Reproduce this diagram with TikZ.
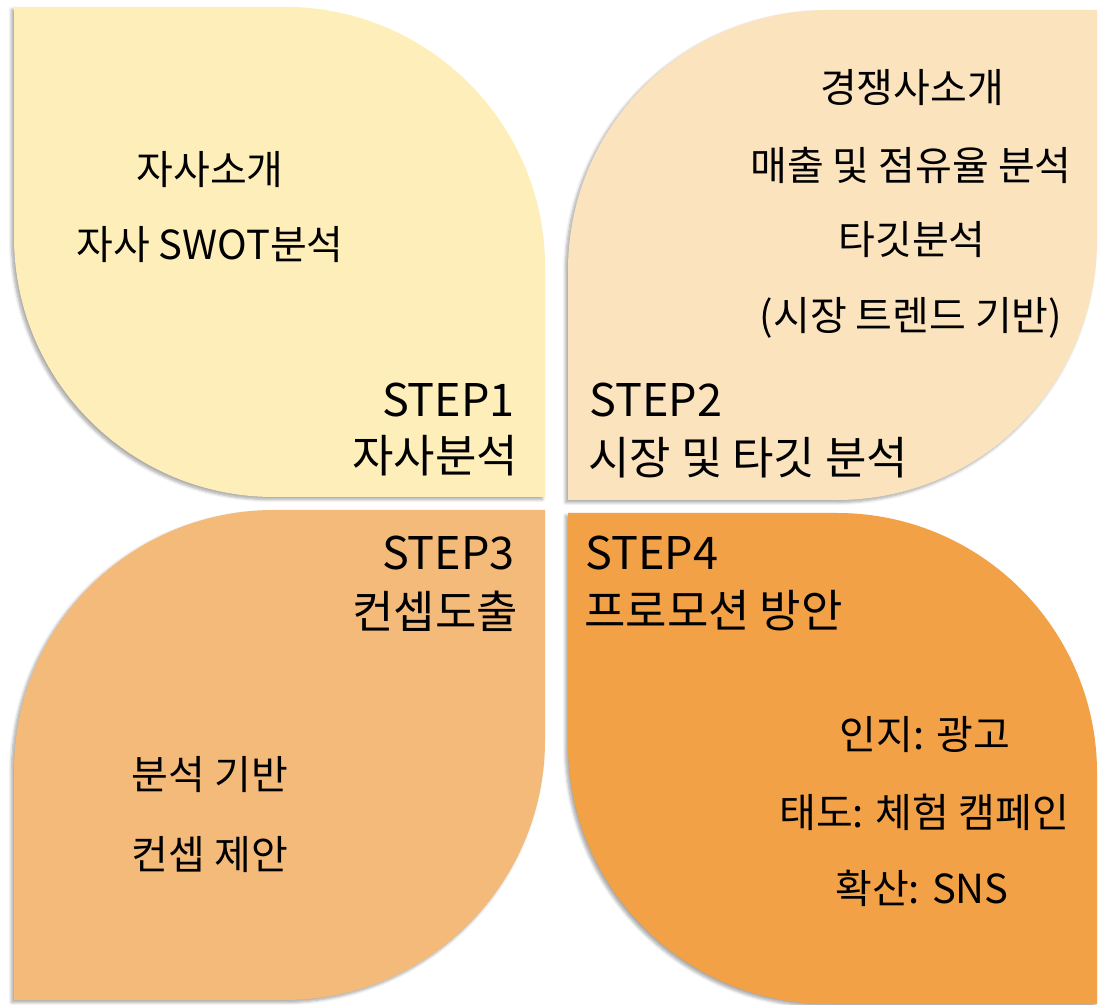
\documentclass[tikz,border=0pt]{standalone}
\usepackage{fontspec}
\setmainfont{Noto Sans CJK KR}
\usetikzlibrary{shadows.blur}
\definecolor{cTL}{RGB}{254,238,186}
\definecolor{cTR}{RGB}{251,228,189}
\definecolor{cBL}{RGB}{244,186,122}
\definecolor{cBR}{RGB}{242,161,71}
\tikzset{
  leaf/.style={blur shadow={shadow xshift=-2.5pt,shadow yshift=-2.5pt,shadow blur steps=6,shadow blur radius=3pt,shadow opacity=35}},
  body/.style={inner sep=0pt,font=\fontsize{40}{44}\selectfont,text=black},
  steptxt/.style={inner sep=0pt,font=\fontsize{45}{50}\selectfont,text=black}
}
\begin{document}
\begin{tikzpicture}[x=1pt,y=1pt]
\useasboundingbox (0,0) rectangle (1099,1004);
% top-left leaf
\fill[cTL,leaf] (14,997) -- (285,997) arc[start angle=90,end angle=0,radius=260] -- (545,507) -- (274,507) arc[start angle=270,end angle=180,radius=260] -- cycle;
% top-right leaf
\fill[cTR,leaf] (1097,994) -- (1097,764) arc[start angle=0,end angle=-90,radius=260] -- (568,504) -- (568,734) arc[start angle=180,end angle=90,radius=260] -- cycle;
% bottom-left leaf
\fill[cBL,leaf] (545,494) -- (545,264) arc[start angle=0,end angle=-90,radius=260] -- (14,4) -- (14,234) arc[start angle=180,end angle=90,radius=260] -- cycle;
% bottom-right leaf
\fill[cBR,leaf] (568,491) -- (837,491) arc[start angle=90,end angle=0,radius=260] -- (1097,0) -- (828,0) arc[start angle=270,end angle=180,radius=260] -- cycle;

% TL texts
\node[body] (tl1) at (210,834) {자사소개};
\node[body] (tl2) at (210,759) {자사 SWOT분석};
\node[steptxt,anchor=east] (s1a) at (515,604) {STEP1};
\node[steptxt,anchor=east] (s1b) at (518,548) {자사분석};

% TR texts
\node[body] (tr1) at (912,916) {경쟁사소개};
\node[body] (tr2) at (911,839) {매출 및 점유율 분석};
\node[body] (tr3) at (912,764) {타깃분석};
\node[body] (tr4) at (911,686) {(시장 트렌드 기반)};
\node[steptxt,anchor=west] (s2a) at (589,604) {STEP2};
\node[steptxt,anchor=west] (s2b) at (588,546) {시장 및 타깃 분석};

% BL texts
\node[steptxt,anchor=east] (s3a) at (515,451) {STEP3};
\node[steptxt,anchor=east] (s3b) at (518,393) {컨셉도출};
\node[body] (bl1) at (210,229) {분석 기반};
\node[body] (bl2) at (210,149) {컨셉 제안};

% BR texts
\node[steptxt,anchor=west] (s4a) at (585,451) {STEP4};
\node[steptxt,anchor=west] (s4b) at (584,393) {프로모션 방안};
\node[body] (br1) at (925,269) {인지: 광고};
\node[body] (br2) at (924,192) {태도: 체험 캠페인};
\node[body] (br3) at (922,116) {확산: SNS};
\end{tikzpicture}
\end{document}
